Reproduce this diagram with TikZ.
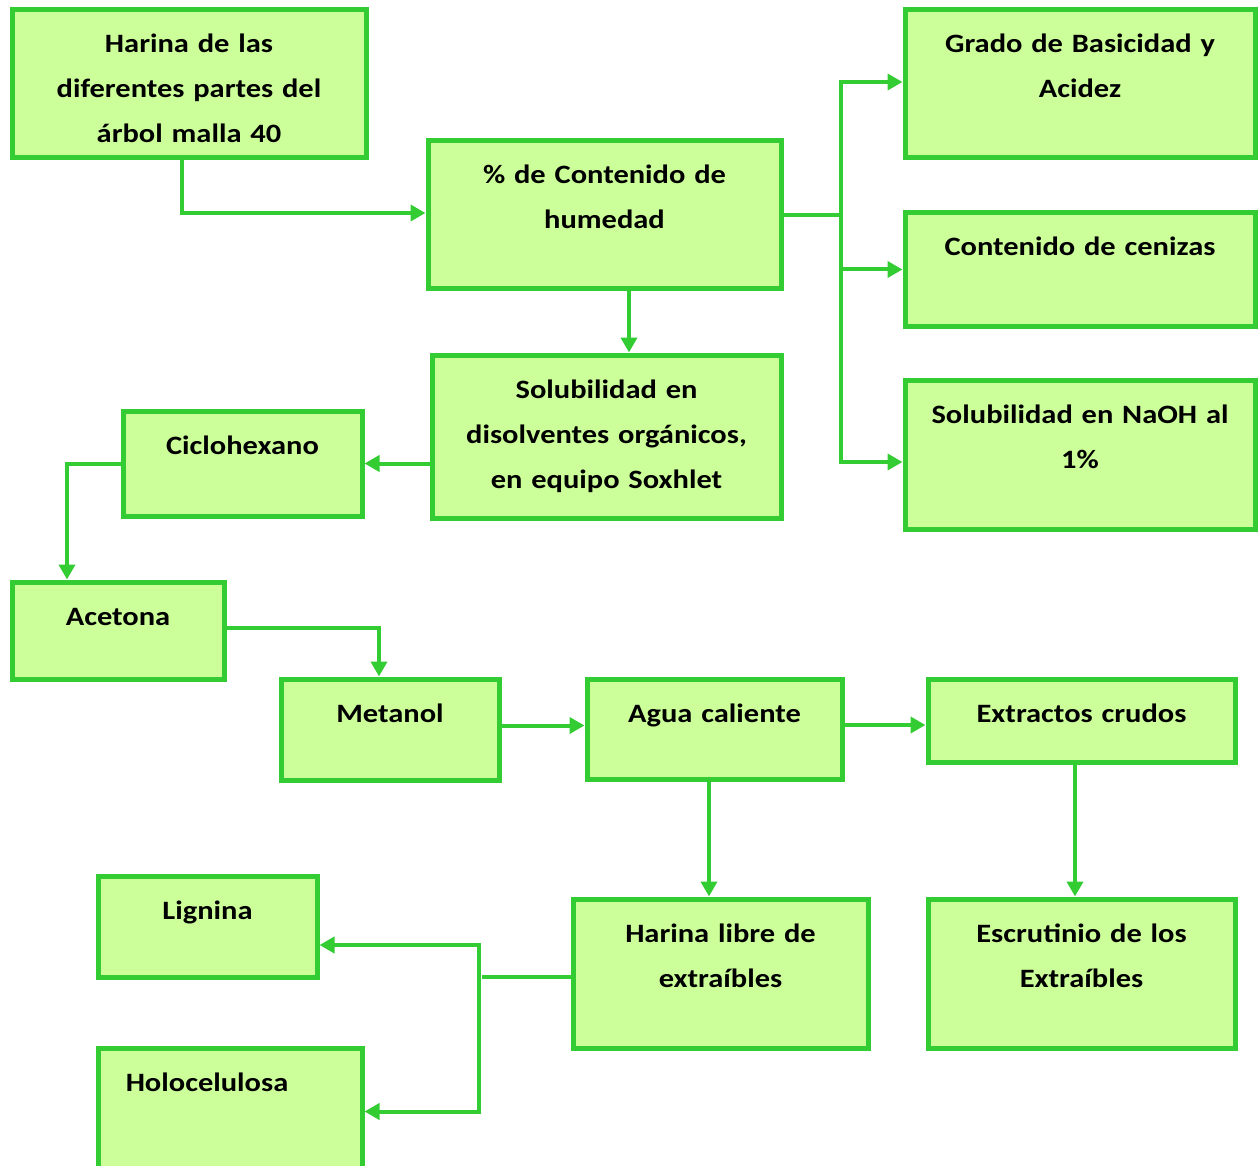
\documentclass[tikz,border=0pt]{standalone}
\usepackage{fontspec}
\setmainfont{Carlito}[FakeStretch=1.15]
\usetikzlibrary{arrows.meta}
\definecolor{boxline}{HTML}{33CC33}
\definecolor{boxfill}{HTML}{CCFF99}

\begin{document}
\begin{tikzpicture}[x=1pt,y=-1pt,->,>={Triangle[length=15pt,width=16pt]},
                    font=\fontsize{26.5}{45}\selectfont\bfseries]
\tikzstyle{box}=[draw=boxline,fill=boxfill,line width=5pt,inner sep=0pt,
                 outer sep=0pt,anchor=north west,align=center,text height=43pt]
\tikzstyle{link}=[draw=boxline,line width=4pt,shorten >=2.5pt]
\clip (0,0) rectangle (1258,1166);
% boxes
\node[box,text width=354pt,text depth=105pt] (harina) at (12,10)
  {Harina de las\\diferentes partes del\\árbol malla 40};
\node[box,text width=353pt,text depth=105pt] (humedad) at (428,141)
  {\% de Contenido de\\humedad};
\node[box,text width=350pt,text depth=105pt] (grado) at (905,10)
  {Grado de Basicidad y\\Acidez};
\node[box,text width=350pt,text depth=70pt] (cenizas) at (905,213)
  {Contenido de cenizas};
\node[box,text width=350pt,text depth=106pt] (naoh) at (905,380)
  {Solubilidad en NaOH al\\1\%};
\node[box,text width=349pt,text depth=120pt] (soxhlet) at (432,355)
  {Solubilidad en\\disolventes orgánicos,\\en equipo Soxhlet};
\node[box,text width=239pt,text depth=62pt] (ciclo) at (123,411) {Ciclohexano};
\node[box,text width=212pt,text depth=54pt] (acetona) at (12,582) {Acetona};
\node[box,text width=218pt,text depth=58pt] (metanol) at (281,679) {Metanol};
\node[box,text width=255pt,text depth=57pt] (agua) at (587,679) {Agua caliente};
\node[box,text width=307pt,text depth=40pt] (extractos) at (928,679)
  {Extractos crudos};
\node[box,text width=295pt,text depth=106pt] (libre) at (573,899)
  {Harina libre de\\extraíbles};
\node[box,text width=307pt,text depth=106pt] (escrutinio) at (928,899)
  {Escrutinio de los\\Extraíbles};
\node[box,text width=219pt,text depth=58pt] (lignina) at (98,876) {Lignina};
\node[box,text width=264pt,text depth=84pt] (holo) at (98,1048)
  {\hspace*{-46pt}Holocelulosa};
% connectors
\draw[link] ([xshift=-7pt]harina.south) |- ([yshift=2pt]humedad.west);
\draw[link,-] (humedad.east) -- ++(60,0) coordinate (split);
\draw[link] (split) |- ([yshift=2pt]grado.west);
\draw[link] (split) |- (cenizas.west);
\draw[link] (split) |- ([yshift=-7.5pt]naoh.west);
\draw[link] ([xshift=24.5pt]humedad.south) -- ([xshift=24.5pt]humedad.south |- soxhlet.north);
\draw[link] (soxhlet.west |- ciclo.east) -- (ciclo.east);
\draw[link] (ciclo.west) -| ([xshift=-51pt]acetona.north);
\draw[link] ([yshift=3pt]acetona.east) -| ([xshift=-11pt]metanol.north);
\draw[link] ([yshift=4pt]metanol.east) -- ([yshift=4pt]metanol.east -| agua.west);
\draw[link] ([yshift=4pt]agua.east) -- ([yshift=4pt]agua.east -| extractos.west);
\draw[link] ([xshift=-5.5pt]agua.south) -- ([xshift=-5.5pt]agua.south |- libre.north);
\draw[link] ([xshift=-6.5pt]extractos.south) -- ([xshift=-6.5pt]extractos.south |- escrutinio.north);
\draw[link,-] ([yshift=-3pt]libre.west) -- ++(-94,0) coordinate (fork);
\draw[link] (fork) |- ([yshift=-18.5pt]lignina.east);
\draw[link] (fork) |- (holo.east);
\end{tikzpicture}
\end{document}
